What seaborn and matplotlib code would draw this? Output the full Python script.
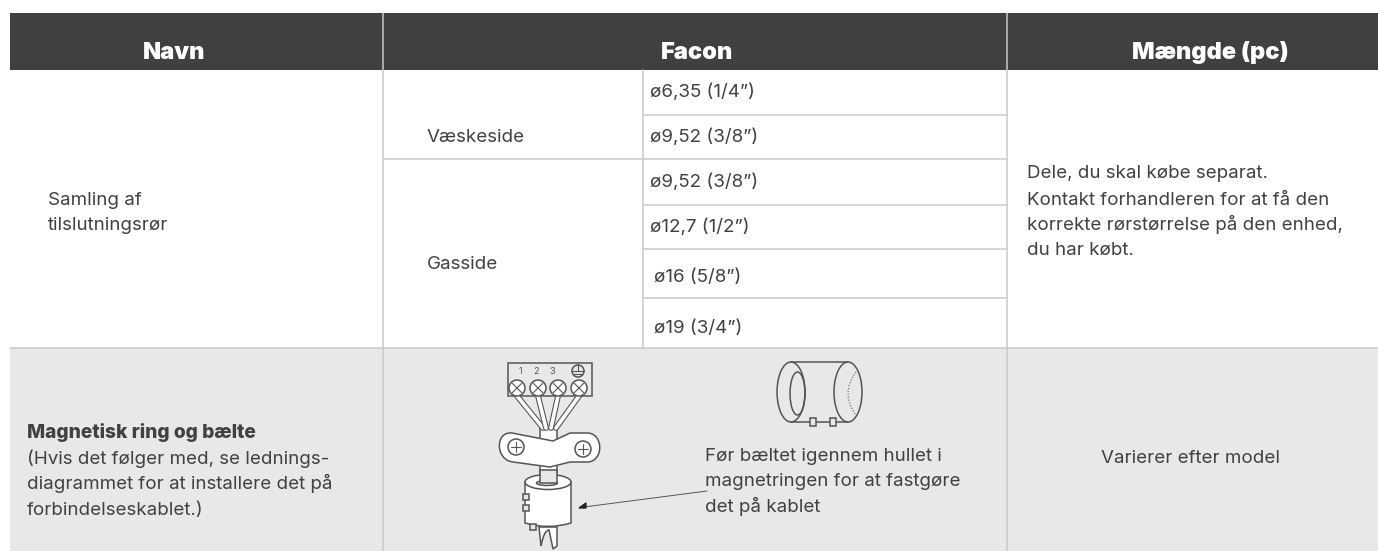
import matplotlib
matplotlib.use('Agg')
import matplotlib.pyplot as plt
from matplotlib.patches import Circle, Ellipse, PathPatch, Rectangle, Polygon
from matplotlib.path import Path
import seaborn as sns
import numpy as np

W, H = 1378, 551
DARK = '#404040'
TXT = '#414141'
RULE = '#c9c9c9'
BAND = '#e8e8e8'
INK = '#555555'

# table text
headers = ['Navn', 'Facon', 'Mængde (pc)']
name_cell = ['Samling af', 'tilslutningsrør']
sides = ['Væskeside', 'Gasside']
sizes = ['ø6,35 (1/4”)', 'ø9,52 (3/8”)', 'ø9,52 (3/8”)', 'ø12,7 (1/2”)', 'ø16 (5/8”)', 'ø19 (3/4”)']
note = ['Dele, du skal købe separat.', 'Kontakt forhandleren for at få den',
        'korrekte rørstørrelse på den enhed,', 'du har købt.']
ring_title = 'Magnetisk ring og bælte'
ring_note = ['(Hvis det følger med, se lednings-', 'diagrammet for at installere det på', 'forbindelseskablet.)']
belt_text = ['Før bæltet igennem hullet i', 'magnetringen for at fastgøre', 'det på kablet']
qty_text = 'Varierer efter model'
terminals = ['1', '2', '3']

sns.set_theme(style='white')
plt.rcParams['font.family'] = ['Inter', 'DejaVu Sans']

fig = plt.figure(figsize=(W / 100, H / 100), dpi=100, facecolor='white')


def band_axes(top, bottom):
    return fig.add_axes([10 / W, 1 - bottom / H, (W - 10) / W, (bottom - top) / H])


# header and grey row are one-cell heatmaps
sns.heatmap(np.array([[1.0]]), ax=band_axes(13, 70), cmap=[DARK], cbar=False,
            xticklabels=False, yticklabels=False)
sns.heatmap(np.array([[1.0]]), ax=band_axes(348, 551), cmap=[BAND], cbar=False,
            xticklabels=False, yticklabels=False)

# everything else in pixel coordinates on a see-through overlay
ax = fig.add_axes([0, 0, 1, 1], facecolor='none')
ax.set_xlim(0, W)
ax.set_ylim(H, 0)
ax.axis('off')


def rule(x0, y0, x1, y1, color=RULE, lw=1.1, z=2):
    sns.lineplot(x=[x0, x1], y=[y0, y1], color=color, lw=lw, sort=False, estimator=None, ax=ax, zorder=z)


for x0, y0, x1, y1 in [(383, 13, 383, 551), (1007, 13, 1007, 551), (643, 70, 643, 348),
                       (643, 115, 1007, 115), (383, 159, 1007, 159), (643, 205, 1007, 205),
                       (643, 249, 1007, 249), (643, 298, 1007, 298), (10, 348, 1378, 348)]:
    rule(x0, y0, x1, y1)

for label, x in zip(headers, [174, 697, 1210]):
    ax.text(x, 59, label, color='white', fontsize=17, fontweight='black', ha='center', va='baseline')

FS = 13.5


def lines(x, baselines, texts):
    for y, t in zip(baselines, texts):
        ax.text(x, y, t, color=TXT, fontsize=FS, va='baseline')


lines(48, [205, 230], name_cell)
lines(427, [142], sides[:1])
lines(427, [269], sides[1:])
for label, x, y in zip(sizes, [650, 650, 650, 650, 654, 654], [97, 142, 187, 232, 282, 333]):
    ax.text(x, y, label, color=TXT, fontsize=FS, va='baseline')
lines(1027, [178, 205, 230, 255], note)
ax.text(27, 438, ring_title, color=TXT, fontsize=13.8, fontweight='heavy', va='baseline')
lines(27, [464, 489, 515], ring_note)
lines(705, [461, 486, 512], belt_text)
lines(1101, [463], [qty_text])


def outline(patch):
    patch.set(edgecolor=INK, linewidth=1.1)
    ax.add_patch(patch)


def screw(x, y, r, d=0.0):
    outline(Circle((x, y), r, facecolor='white', zorder=6))
    a = r * .6
    if d:
        rule(x - a, y - a, x + a, y + a, INK, .8, 7)
        rule(x - a, y + a, x + a, y - a, INK, .8, 7)
    else:
        rule(x - a, y, x + a, y, INK, .8, 7)
        rule(x, y - a, x, y + a, INK, .8, 7)


# terminal block
outline(Rectangle((508, 363), 84, 33, facecolor=BAND, zorder=3))
for label, x in zip(terminals, [520, 536, 552]):
    ax.text(x, 371, label, color=INK, fontsize=6.5, ha='center', va='center')
outline(Circle((578, 371), 6, facecolor='none', zorder=4))
rule(572, 371, 584, 371, INK, .8, 5)
rule(578, 365, 578, 371, INK, .8, 5)
rule(574, 374, 582, 374, INK, .8, 5)
for x in [517, 538, 558, 579]:
    screw(x, 388, 8, 1)

# wires
for x0, x1 in [(517, 543), (538, 546), (558, 551), (579, 556)]:
    rule(x0, 396, x1, 428, INK, 4.2, 3)
    rule(x0, 396, x1, 428, 'white', 2.6, 3)

# cable above and under the clamp
outline(Rectangle((540, 428), 17, 58, facecolor='white', zorder=2))

# clamp
codes = [Path.MOVETO, Path.LINETO, Path.LINETO, Path.LINETO, Path.CURVE4, Path.CURVE4, Path.CURVE4,
         Path.LINETO, Path.LINETO, Path.LINETO, Path.CURVE4, Path.CURVE4, Path.CURVE4, Path.CLOSEPOLY]
verts = [(512, 433), (553, 441), (570, 433), (587, 433), (604, 433), (604, 462), (587, 462),
         (570, 462), (550, 467), (513, 462), (495, 460), (495, 431), (512, 433), (512, 433)]
outline(PathPatch(Path(verts, codes), facecolor='white', zorder=4))
screw(516, 447, 8)
screw(583, 449, 8)

# magnetic ring on the cable
outline(PathPatch(Path([(525, 482), (525, 523), (548, 530), (571, 523), (571, 482), (525, 482)],
                       [Path.MOVETO, Path.LINETO, Path.CURVE3, Path.CURVE3, Path.LINETO, Path.CLOSEPOLY]),
                  facecolor='white', zorder=5))
outline(Ellipse((548, 482), 46, 15, facecolor='white', zorder=6))
outline(Ellipse((547, 483), 21, 5, facecolor=BAND, zorder=7))
outline(Rectangle((540, 470), 17, 13, facecolor=BAND, zorder=8))
for x, y in [(526, 497), (526, 508), (533, 527)]:
    outline(Rectangle((x - 3, y - 3), 6, 6, facecolor=BAND, zorder=9))

# cable tail
outline(PathPatch(Path([(539, 527), (541, 546), (544, 530), (549, 530), (553, 549), (557, 546), (557, 527), (539, 527)],
                       [Path.MOVETO, Path.LINETO, Path.CURVE3, Path.CURVE3, Path.LINETO, Path.LINETO, Path.LINETO, Path.CLOSEPOLY]),
                  facecolor='white', zorder=4))

# pointer
rule(707, 491, 584, 507, INK, .7, 9)
ax.add_patch(Polygon([(579, 508), (586, 503), (586, 508)], color='#222222', zorder=9))

# ring drawing, upper right
rule(791, 362, 848, 362, INK, 1.1, 4)
rule(791, 422, 848, 422, INK, 1.1, 4)
outline(Ellipse((791, 392), 28, 60, facecolor='none', zorder=4))
outline(Ellipse((797.5, 393.5), 15, 43, facecolor='none', zorder=5))
outline(Ellipse((848, 392), 28, 60, facecolor='none', zorder=4))
ax.add_patch(PathPatch(Path([(856, 372), (840, 393.5), (856, 415)], [Path.MOVETO, Path.CURVE3, Path.CURVE3]),
                       facecolor='none', edgecolor=INK, lw=.8, ls=':', zorder=4))
for x in [813, 833]:
    outline(Rectangle((x - 3, 418), 6, 8, facecolor=BAND, zorder=6))

fig.savefig('out.png', dpi=100)
